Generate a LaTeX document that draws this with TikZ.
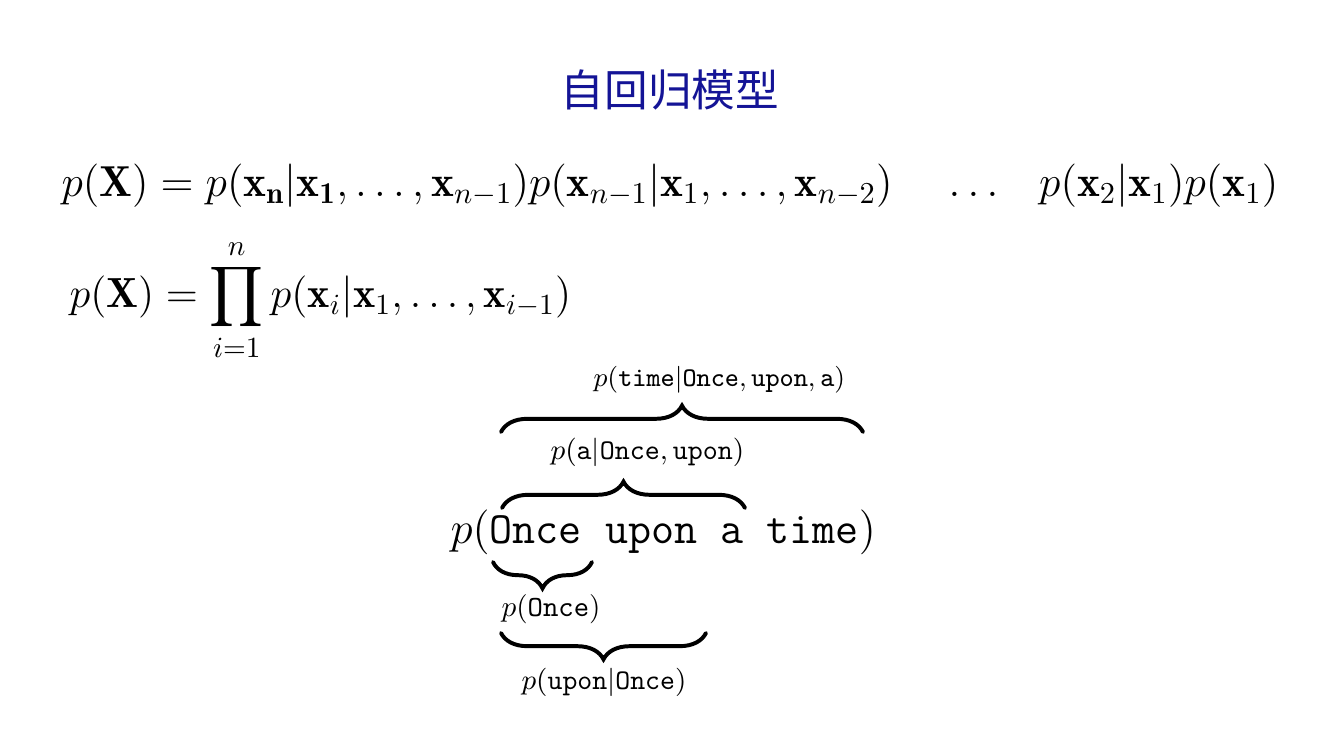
\RequirePackage{fix-cm}
\documentclass[tikz,border=0pt]{standalone}
\usepackage{exscale}
\usepackage{fontspec}
\newfontfamily\cjkfont{Noto Sans CJK SC}
\usetikzlibrary{decorations.pathreplacing}
\definecolor{titleblue}{RGB}{20,20,150}
\tikzset{
  formula/.style={inner sep=0pt, font=\fontsize{14.8}{17}\selectfont},
  prodformula/.style={inner sep=0pt, font=\fontsize{14.4}{17}\selectfont},
  phrase/.style={inner sep=0pt, font=\fontsize{15.3}{18}\selectfont},
  lbl/.style={inner sep=0pt, font=\fontsize{#1}{12}\selectfont},
  bracebase/.style={decorate, line width=1.35pt, line cap=round},
  obrace/.style={bracebase, decoration={brace, amplitude=9pt}},
  ubrace/.style={bracebase, decoration={brace, amplitude=9pt, mirror}},
}
\begin{document}
\begin{tikzpicture}[x=0.12003mm, y=-0.12003mm]
\useasboundingbox (0,0) rectangle (1333,750);
% title
\node[inner sep=0pt, text=titleblue, font=\cjkfont\fontsize{14.9}{17}\selectfont] (title) at (670,90) {自回归模型};
% line 1
\node[formula, anchor=base west] (eqA) at (61,197)
  {$p(\mathbf{X}) = p(\mathbf{x_n}|\mathbf{x_1},\ldots,\mathbf{x}_{n-1})p(\mathbf{x}_{n-1}|\mathbf{x}_1,\ldots,\mathbf{x}_{n-2})$};
\node[formula, anchor=base west] (eqDots) at (948,197) {$\ldots$};
\node[formula, anchor=base east] (eqC) at (1279,197) {$p(\mathbf{x}_2|\mathbf{x}_1)p(\mathbf{x}_1)$};
% line 2
\node[prodformula, anchor=base west] (eqProd) at (69,308)
  {$\displaystyle p(\mathbf{X}) = \prod_{i=1}^{n} p(\mathbf{x}_i|\mathbf{x}_1,\ldots,\mathbf{x}_{i-1})$};
% phrase
\node[phrase, anchor=base west] (phrase) at (450,544) {$p($\texttt{Once upon a time}$)$};
% labels
\node[lbl=9.2, anchor=base west] (lTime) at (593,387) {$p(\mathtt{time}|\mathtt{Once},\mathtt{upon},\mathtt{a})$};
\node[lbl=9.75, anchor=base west] (lA) at (550,460) {$p(\mathtt{a}|\mathtt{Once},\mathtt{upon})$};
\node[lbl=10, anchor=base west] (lOnce) at (501,617) {$p(\mathtt{Once})$};
\node[lbl=9.7, anchor=base west] (lUpon) at (521,689) {$p(\mathtt{upon}|\mathtt{Once})$};
% brace end points
\coordinate (b1l) at (501,432); \coordinate (b1r) at (863,432);
\coordinate (b2l) at (502,508); \coordinate (b2r) at (745,508);
\coordinate (b3l) at (493,562); \coordinate (b3r) at (592,562);
\coordinate (b4l) at (501,633); \coordinate (b4r) at (706,633);
\draw[obrace] (b1l) -- (b1r);
\draw[obrace] (b2l) -- (b2r);
\draw[ubrace] (b3l) -- (b3r);
\draw[ubrace] (b4l) -- (b4r);
\end{tikzpicture}
\end{document}
